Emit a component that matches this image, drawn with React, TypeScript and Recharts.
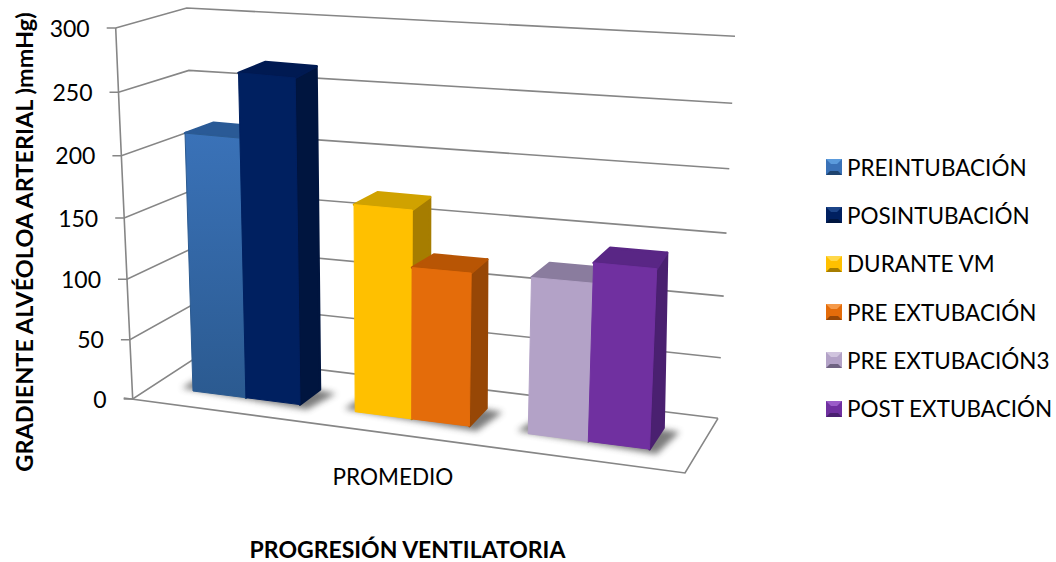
import React from "react";
import { BarChart, Bar, XAxis, YAxis, CartesianGrid, Legend } from "recharts";

const category = "PROMEDIO";
const seriesNames = ["PREINTUBACIÓN", "POSINTUBACIÓN", "DURANTE VM", "PRE EXTUBACIÓN", "PRE EXTUBACIÓN3", "POST EXTUBACIÓN"];
const seriesValues = [208, 262, 167, 122, 126, 144];
const valueTicks = [0, 50, 100, 150, 200, 250, 300];

const tones = [
  { front: "#3a72b8", end: "#2b5a90", top: "#2a5a96", side: "#1f4470", light: "#5b9bdc" },
  { front: "#002060", end: "#002060", top: "#001a52", side: "#00153f", light: "#1c4488" },
  { front: "#ffc000", end: "#ffc000", top: "#d0a200", side: "#a67d00", light: "#ffd84a" },
  { front: "#e46c0a", end: "#e46c0a", top: "#b85504", side: "#974706", light: "#f59a4a" },
  { front: "#b3a2c7", end: "#b3a2c7", top: "#8a7c9e", side: "#6f6382", light: "#d0c4de" },
  { front: "#7030a0", end: "#7030a0", top: "#592685", side: "#4a2070", light: "#9a5cc8" },
];

const row: Record<string, string | number | null> = { name: category, gapA: null, gapB: null };
seriesNames.forEach((n, i) => { row[n] = seriesValues[i]; });
const data = [row];

const PLOT_TOP = 28;
const PLOT_H = 372;
const LINE = "#868686";
const FONT = "Lato, sans-serif";

// projection of the value walls: left front edge, back corner, right end
const leftPt = (f: number) => [132.7 - 17 * f, 399 - 353 * f - 18 * f * f];
const backPt = (f: number) => [200 - 13.3 * f, 355 - 314 * f - 33 * f * f];
const rightPt = (f: number) => [718 + 17 * f, 418.3 - 359 * f - 23 * f * f];
const floorFront = [685, 473];

const pts = (list: number[][]) => list.map((p) => `${p[0].toFixed(1)},${p[1].toFixed(1)}`).join(" ");

// slots get wider towards the viewer on the right
const warpX = (x: number) => x + 0.000184 * (x - 193) ** 2 - 0.0827 * (x - 193);
const floorY = (x: number) => 391 + 0.1275 * (x - 193);
const lean = (x: number) => (x - 394) * 0.000154;
const depthTop = (x: number) => [27 - 0.03 * (x - 238), -(11 + 0.0115 * (x - 238))];
const depthFoot = (x: number) => [20 - 0.017 * (x - 300), -(15 + 0.018 * (x - 300))];

function WallLine(props: any) {
  const f = (PLOT_TOP + PLOT_H - props.y1) / PLOT_H;
  const l = leftPt(f);
  const b = backPt(f);
  const r = rightPt(f);
  const common = { fill: "none", stroke: LINE, strokeWidth: 1.6 };
  const edge = [0, 0.25, 0.5, 0.75, 1].map(leftPt);
  return (
    <g>
      <polyline {...common} points={pts([[l[0] - 9, l[1]], l, b, r])} />
      {f < 0.001 && <polyline {...common} points={pts(edge)} />}
      {f < 0.001 && <polyline {...common} points={pts([[l[0] - 9, l[1] - 1], floorFront, r])} />}
    </g>
  );
}

function ValueTick(props: any) {
  const f = (PLOT_TOP + PLOT_H - props.y) / PLOT_H;
  const l = leftPt(f);
  return (
    <text x={l[0] - 26} y={l[1] + 3} textAnchor="end" dominantBaseline="middle" fontFamily={FONT} fontSize={23} fill="#000">
      {props.payload.value}
    </text>
  );
}

function CategoryTick(props: any) {
  return (
    <text x={props.x - 28.5} y={props.y + 71} textAnchor="middle" dominantBaseline="middle" fontFamily={FONT} fontSize={22.5} fill="#000">
      {props.payload.value}
    </text>
  );
}

function Bar3D(props: any) {
  const { x, width, height, tone, index, castShadow } = props;
  const xl = warpX(x);
  const xr = warpX(x + width);
  const fl = [xl, floorY(xl)];
  const fr = [xr, floorY(xr)];
  const tl = [xl + lean(xl) * height, fl[1] - height];
  const trY = tl[1] + 0.095 * (xr - xl);
  const tr = [xr + lean(xr) * (fr[1] - trY), trY];
  const dl = depthTop(tl[0]);
  const dr = depthTop(tr[0]);
  const backRight = [tr[0] + dr[0] - 4, tr[1] + dr[1]];
  const df = depthFoot(xr);
  const id = `front-${index}`;
  const edge = { strokeWidth: 2.5, strokeLinejoin: "round" as const };
  let shadow = null;
  if (castShadow) {
    // the pair shares one soft shadow on the floor
    const x2 = warpX(x + 2 * width);
    const d2 = depthFoot(x2);
    shadow = (
      <polygon
        points={pts([
          [xl - 11, floorY(xl) - 3],
          [x2 + 7, floorY(x2) + 5],
          [x2 + d2[0] + 16, floorY(x2) + d2[1] + 4],
          [xl + 20, floorY(xl) - 22],
        ])}
        fill="#6e6e6e"
        opacity={0.9}
        style={{ filter: "blur(3px)" }}
      />
    );
  }
  return (
    <g>
      <defs>
        <linearGradient id={id} x1="0" y1="0" x2="0" y2="1">
          <stop offset="0%" stopColor={tone.front} />
          <stop offset="100%" stopColor={tone.end} />
        </linearGradient>
      </defs>
      {shadow}
      <polygon points={pts([fr, tr, backRight, [fr[0] + df[0], fr[1] + df[1]]])} fill={tone.side} stroke={tone.side} {...edge} />
      <polygon points={pts([tl, tr, backRight, [tl[0] + dl[0], tl[1] + dl[1]]])} fill={tone.top} stroke={tone.top} {...edge} />
      <polygon points={pts([fl, tl, tr, fr])} fill={`url(#${id})`} stroke={tone.end} strokeWidth={1} strokeLinejoin="round" />
    </g>
  );
}

function LegendIcon({ tone }: { tone: (typeof tones)[number] }) {
  return (
    <svg width={16} height={16} style={{ flex: "none", marginRight: 5 }}>
      <rect width={16} height={16} fill={tone.front} />
      <polygon points="0,0 16,0 8,8" fill={tone.light} />
      <polygon points="0,16 16,16 8,8" fill={tone.side} />
      <rect x={3} y={5} width={10} height={7} fill={tone.front} />
    </svg>
  );
}

function SeriesLegend() {
  return (
    <div style={{ fontFamily: FONT, fontSize: 22.5, color: "#000" }}>
      {seriesNames.map((n, i) => (
        <div key={n} style={{ display: "flex", alignItems: "center", height: 48.3, whiteSpace: "nowrap" }}>
          <LegendIcon tone={tones[i]} />
          {n}
        </div>
      ))}
    </div>
  );
}

export default function App() {
  const barFor = (name: string) => {
    const i = seriesNames.indexOf(name);
    return (
      <Bar
        key={name}
        dataKey={name}
        fill={tones[i].front}
        isAnimationActive={false}
        shape={(p: any) => <Bar3D {...p} index={i} tone={tones[i]} castShadow={i % 2 === 0} />}
      />
    );
  };
  return (
    <div style={{ position: "absolute", left: 0, top: 0, background: "#fff" }}>
      <BarChart
        width={1056}
        height={562}
        data={data}
        margin={{ top: PLOT_TOP, right: 133, bottom: 132, left: 90 }}
        barCategoryGap={43}
        barGap={0}
      >
        <CartesianGrid horizontal={(p: any) => <WallLine key={p.y1} {...p} />} vertical={false} />
        <XAxis
          dataKey="name"
          height={30}
          axisLine={false}
          tickLine={false}
          tick={CategoryTick}
          label={{ value: "PROGRESIÓN VENTILATORIA", position: "bottom", dx: -14, dy: 107, fontFamily: FONT, fontSize: 23, fontWeight: 700, fill: "#000" }}
        />
        <YAxis
          width={60}
          domain={[0, 300]}
          ticks={valueTicks}
          axisLine={false}
          tickLine={false}
          tick={ValueTick}
          label={{ value: "GRADIENTE ALVÉOLOA ARTERIAL )mmHg)", angle: -90, position: "center", dx: -95, dy: 28, fontFamily: FONT, fontSize: 23.5, fontWeight: 700, fill: "#000" }}
        />
        <Legend layout="vertical" align="right" verticalAlign="top" wrapperStyle={{ left: 826, top: 143, width: 230 }} content={SeriesLegend} />
        {barFor(seriesNames[0])}
        {barFor(seriesNames[1])}
        <Bar dataKey="gapA" legendType="none" fill="none" isAnimationActive={false} />
        {barFor(seriesNames[2])}
        {barFor(seriesNames[3])}
        <Bar dataKey="gapB" legendType="none" fill="none" isAnimationActive={false} />
        {barFor(seriesNames[4])}
        {barFor(seriesNames[5])}
      </BarChart>
    </div>
  );
}
